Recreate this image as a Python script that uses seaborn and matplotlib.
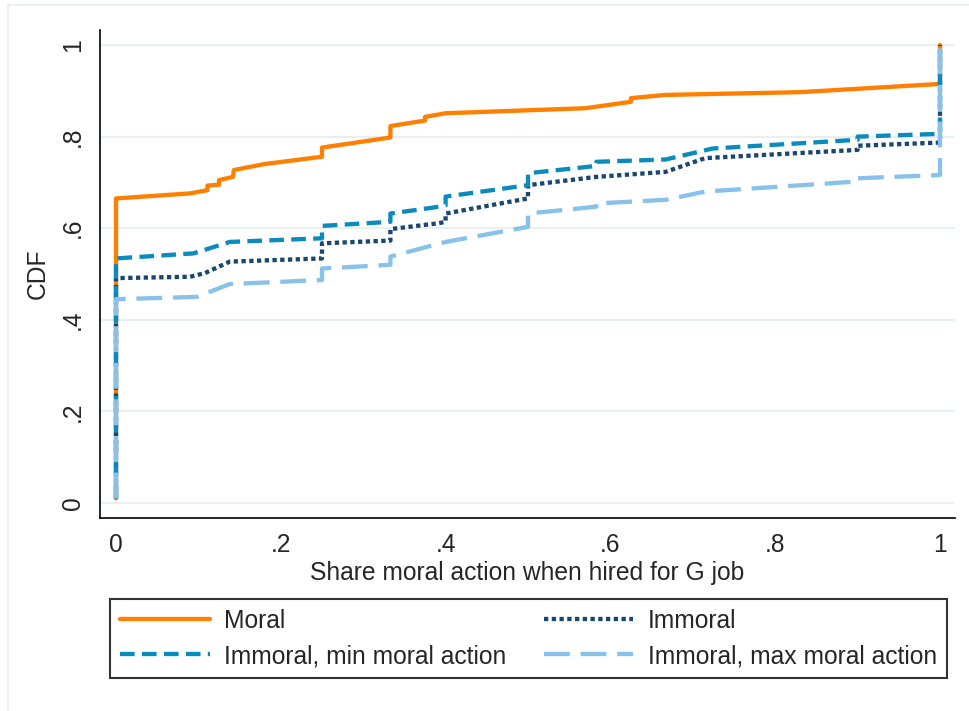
import matplotlib
matplotlib.use("Agg")
import matplotlib.pyplot as plt
from matplotlib.patches import Rectangle
import pandas as pd
import seaborn as sns

moral_x = [0, 0, 0.09, 0.111, 0.111, 0.125, 0.125, 0.142, 0.143, 0.18, 0.25, 0.25,
           0.333, 0.333, 0.375, 0.375, 0.4, 0.57, 0.625, 0.625, 0.667, 0.83, 1, 1]
moral_y = [0.01, 0.665, 0.676, 0.683, 0.693, 0.695, 0.705, 0.712, 0.727, 0.740, 0.756, 0.776,
           0.798, 0.823, 0.835, 0.843, 0.851, 0.862, 0.876, 0.884, 0.891, 0.897, 0.915, 1.0]

immoral_x = [0, 0, 0.09, 0.108, 0.138, 0.25, 0.25, 0.333, 0.333, 0.392, 0.4, 0.4,
             0.5, 0.5, 0.583, 0.667, 0.715, 0.9, 0.9, 1, 1]
immoral_y = [0.01, 0.491, 0.494, 0.502, 0.527, 0.534, 0.567, 0.573, 0.598, 0.611, 0.614, 0.632,
             0.665, 0.694, 0.712, 0.723, 0.753, 0.771, 0.780, 0.787, 1.0]

min_x = [0, 0, 0.094, 0.138, 0.25, 0.25, 0.333, 0.333, 0.385, 0.4, 0.4, 0.5, 0.5,
         0.583, 0.583, 0.667, 0.724, 0.9, 0.9, 1, 1]
min_y = [0.01, 0.534, 0.545, 0.570, 0.578, 0.605, 0.614, 0.632, 0.645, 0.650, 0.669, 0.694, 0.720,
         0.736, 0.745, 0.750, 0.774, 0.793, 0.800, 0.806, 1.0]

max_x = [0, 0, 0.098, 0.138, 0.25, 0.25, 0.333, 0.333, 0.4, 0.5, 0.5, 0.583, 0.583,
         0.667, 0.715, 0.9, 0.9, 1, 1]
max_y = [0.01, 0.445, 0.450, 0.478, 0.487, 0.512, 0.520, 0.538, 0.570, 0.603, 0.632, 0.647, 0.654,
         0.662, 0.680, 0.702, 0.709, 0.716, 1.0]

labels = ["Moral", "Immoral", "Immoral, min moral action", "Immoral, max moral action"]
x_ticks = [0, 0.2, 0.4, 0.6, 0.8, 1]
x_ticklabels = ["0", ".2", ".4", ".6", ".8", "1"]
y_ticks = [0, 0.2, 0.4, 0.6, 0.8, 1]
y_ticklabels = ["0", ".2", ".4", ".6", ".8", "1"]

series = [
    (labels[0], moral_x, moral_y, "#ff8000", "-"),
    (labels[1], immoral_x, immoral_y, "#1a476f", (0, (1.0, 0.8))),
    (labels[2], min_x, min_y, "#0a8bbd", (0, (3.4, 1.7))),
    (labels[3], max_x, max_y, "#88c2ea", (0, (6.0, 2.5))),
]

FS = 17.7

sns.set_style("white")
plt.rcParams["font.family"] = ["Liberation Sans", "DejaVu Sans"]
plt.rcParams["font.size"] = FS

fig = plt.figure(figsize=(9.69, 7.11), dpi=100)
ax = fig.add_axes([100 / 969, 1 - 518 / 711, 855 / 969, 488 / 711])

# light outer frame like the Stata graph region
fig.patches.append(Rectangle((8 / 969, -0.1), 1.2, 1 - 5 / 711 + 0.1, transform=fig.transFigure,
                             fill=False, edgecolor="#eaf1f2", linewidth=1.5, zorder=0))

handles = {}
for name, xs, ys, color, ls in series:
    df = pd.DataFrame({"x": xs, "y": ys})
    sns.lineplot(data=df, x="x", y="y", estimator=None, sort=False, ax=ax,
                 color=color, linewidth=3.1, linestyle=ls, label=name, legend=False)
    handles[name] = ax.lines[-1]

ax.set_xlim(-16 / 824, 1 + 15 / 824)
ax.set_ylim(-15 / 458, 1 + 15 / 458)
ax.set_xticks(x_ticks)
ax.set_xticklabels(x_ticklabels)
ax.set_yticks(y_ticks)
ax.set_yticklabels(y_ticklabels, rotation=90, va="center")
ax.tick_params(axis="both", direction="out", length=6, width=1.2, color="black",
               labelsize=FS, pad=5)
ax.grid(axis="y", color="#e9f0f1", linewidth=1.5)
ax.set_axisbelow(True)
for side in ["top", "right"]:
    ax.spines[side].set_visible(False)
for side in ["left", "bottom"]:
    ax.spines[side].set_color("black")
    ax.spines[side].set_linewidth(1.2)

ax.set_xlabel("Share moral action when hired for G job", fontsize=FS, labelpad=3)
ax.set_ylabel("CDF", fontsize=FS, labelpad=8)

order = [labels[0], labels[2], labels[1], labels[3]]
leg = fig.legend([handles[n] for n in order], order, ncol=2, mode="expand", loc="center",
                 bbox_to_anchor=(110 / 969, 1 - 678 / 711, 837 / 969, 79 / 711),
                 fancybox=False, frameon=True, edgecolor="black", fontsize=FS,
                 handlelength=3.65, handletextpad=0.6, labelspacing=0.45,
                 borderpad=0.4, borderaxespad=0)
leg.get_frame().set_linewidth(1.5)

fig.savefig("out.png", dpi=100, facecolor="white")
